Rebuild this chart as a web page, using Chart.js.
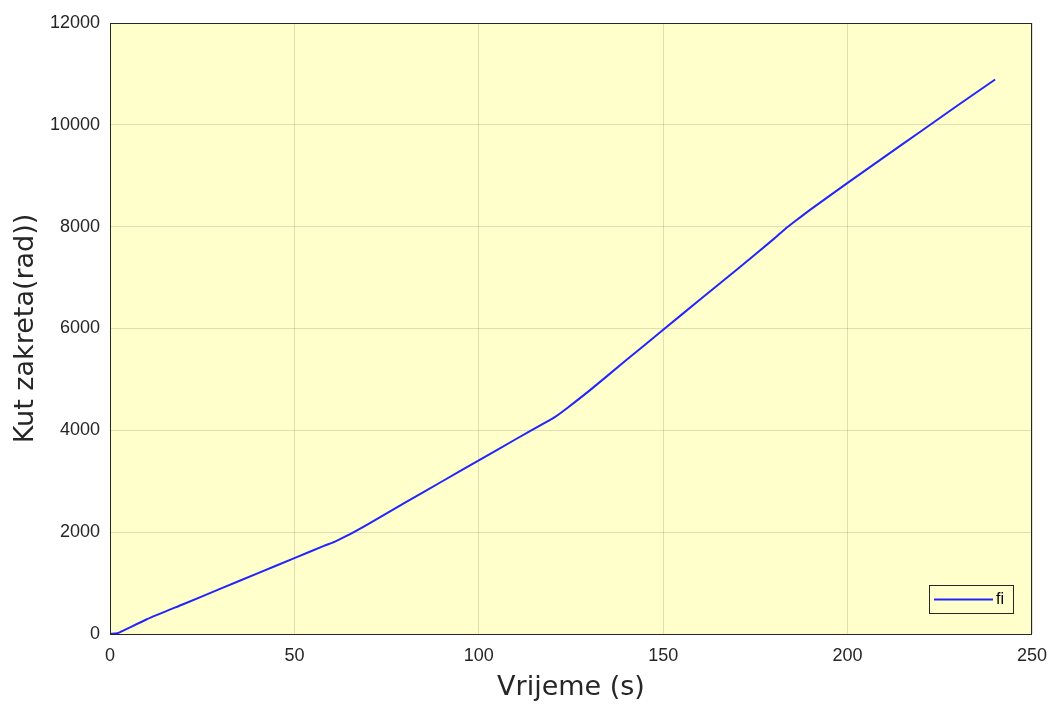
<!DOCTYPE html>
<html>
<head>
<meta charset="utf-8">
<script src="https://cdn.jsdelivr.net/npm/chart.js@4"></script>
<style>
  html, body { margin: 0; padding: 0; background: #fff; }
  #wrap { width: 1051px; height: 704px; position: relative; }
</style>
</head>
<body>
<div id="wrap"><canvas id="chart"></canvas></div>
<script>
// values
const times = [0, 2, 4, 10, 20, 30, 40, 50, 58, 61, 64, 70, 80, 90, 100, 110, 118, 121, 124, 130,
  140, 150, 160, 170, 180, 183, 186, 190, 200, 210, 220, 230, 240];
const fi = [0, 15, 80, 290, 590, 890, 1190, 1490, 1730, 1815, 1920, 2160, 2580, 2995, 3410, 3825, 4150, 4280, 4440, 4780,
  5380, 5975, 6570, 7160, 7760, 7950, 8120, 8340, 8860, 9370, 9880, 10390, 10890];
const seriesLabel = 'fi';
const xTitle = 'Vrijeme (s)';
const yTitle = 'Kut zakreta(rad))';

const axisColor = '#262626';
const gridColor = 'rgba(38,38,38,0.15)';
const tickFont = { size: 18, family: '"Liberation Sans", Arial, sans-serif' };
const titleFont = { size: 27, family: '"DejaVu Sans", Verdana, sans-serif' };

// yellow plot background + box round the axes
const plotBox = {
  id: 'plotBox',
  beforeDraw(chart) {
    const { ctx, chartArea: a } = chart;
    ctx.save();
    ctx.fillStyle = '#ffffcc';
    ctx.fillRect(a.left, a.top, a.right - a.left, a.bottom - a.top);
    ctx.restore();
  },
  afterDatasetsDraw(chart) {
    const { ctx, chartArea: a } = chart;
    ctx.save();
    ctx.strokeStyle = axisColor;
    ctx.lineWidth = 1;
    ctx.strokeRect(a.left + 0.5, a.top + 0.5, a.right - a.left - 1, a.bottom - a.top);
    ctx.restore();
  }
};

// legend box in the lower right corner of the axes
const insideLegend = {
  id: 'insideLegend',
  afterDraw(chart) {
    const { ctx, chartArea: a } = chart;
    const ds = chart.data.datasets[0];
    const w = 84, h = 28;
    const x = a.right - 19 - w, y = a.bottom - 21 - h;
    ctx.save();
    ctx.fillStyle = '#ffffcc';
    ctx.fillRect(x, y, w, h);
    ctx.strokeStyle = axisColor;
    ctx.lineWidth = 1;
    ctx.strokeRect(x + 0.5, y + 0.5, w, h);
    ctx.strokeStyle = ds.borderColor;
    ctx.lineWidth = 2;
    ctx.beginPath();
    ctx.moveTo(x + 5, y + h / 2 + 0.5);
    ctx.lineTo(x + 64, y + h / 2 + 0.5);
    ctx.stroke();
    ctx.fillStyle = '#000';
    ctx.font = '16px "Liberation Sans", Arial, sans-serif';
    ctx.textBaseline = 'middle';
    ctx.fillText(ds.label, x + 67, y + h / 2 + 1);
    ctx.restore();
  }
};

new Chart(document.getElementById('chart'), {
  type: 'line',
  data: {
    datasets: [{
      label: seriesLabel,
      data: times.map((t, i) => ({ x: t, y: fi[i] })),
      borderColor: '#2424ff',
      borderWidth: 2,
      pointRadius: 0,
      tension: 0.2,
      fill: false
    }]
  },
  options: {
    responsive: true,
    maintainAspectRatio: false,
    animation: false,
    layout: { padding: { top: 23, right: 19, left: 0, bottom: 0 } },
    plugins: { legend: { display: false }, tooltip: { enabled: false } },
    scales: {
      x: {
        type: 'linear',
        min: 0, max: 250,
        ticks: { stepSize: 50, color: axisColor, font: tickFont, padding: 11, callback: v => String(v) },
        grid: { color: gridColor, drawTicks: false },
        border: { display: false },
        title: { display: true, text: xTitle, color: axisColor, font: titleFont, padding: { top: 0, bottom: 0 } },
        afterFit(scale) { scale.height = 70; scale.paddingRight = 0; scale.paddingLeft = 0; }
      },
      y: {
        min: 0, max: 12000,
        ticks: { stepSize: 2000, color: axisColor, font: tickFont, padding: 10, callback: v => String(v) },
        grid: { color: gridColor, drawTicks: false },
        border: { display: false },
        title: { display: true, text: yTitle, color: axisColor, font: titleFont, padding: { top: 10, bottom: 0 } },
        afterFit(scale) { scale.width = 110; scale.paddingTop = 0; scale.paddingBottom = 0; }
      }
    }
  },
  plugins: [plotBox, insideLegend]
});
</script>
</body>
</html>
